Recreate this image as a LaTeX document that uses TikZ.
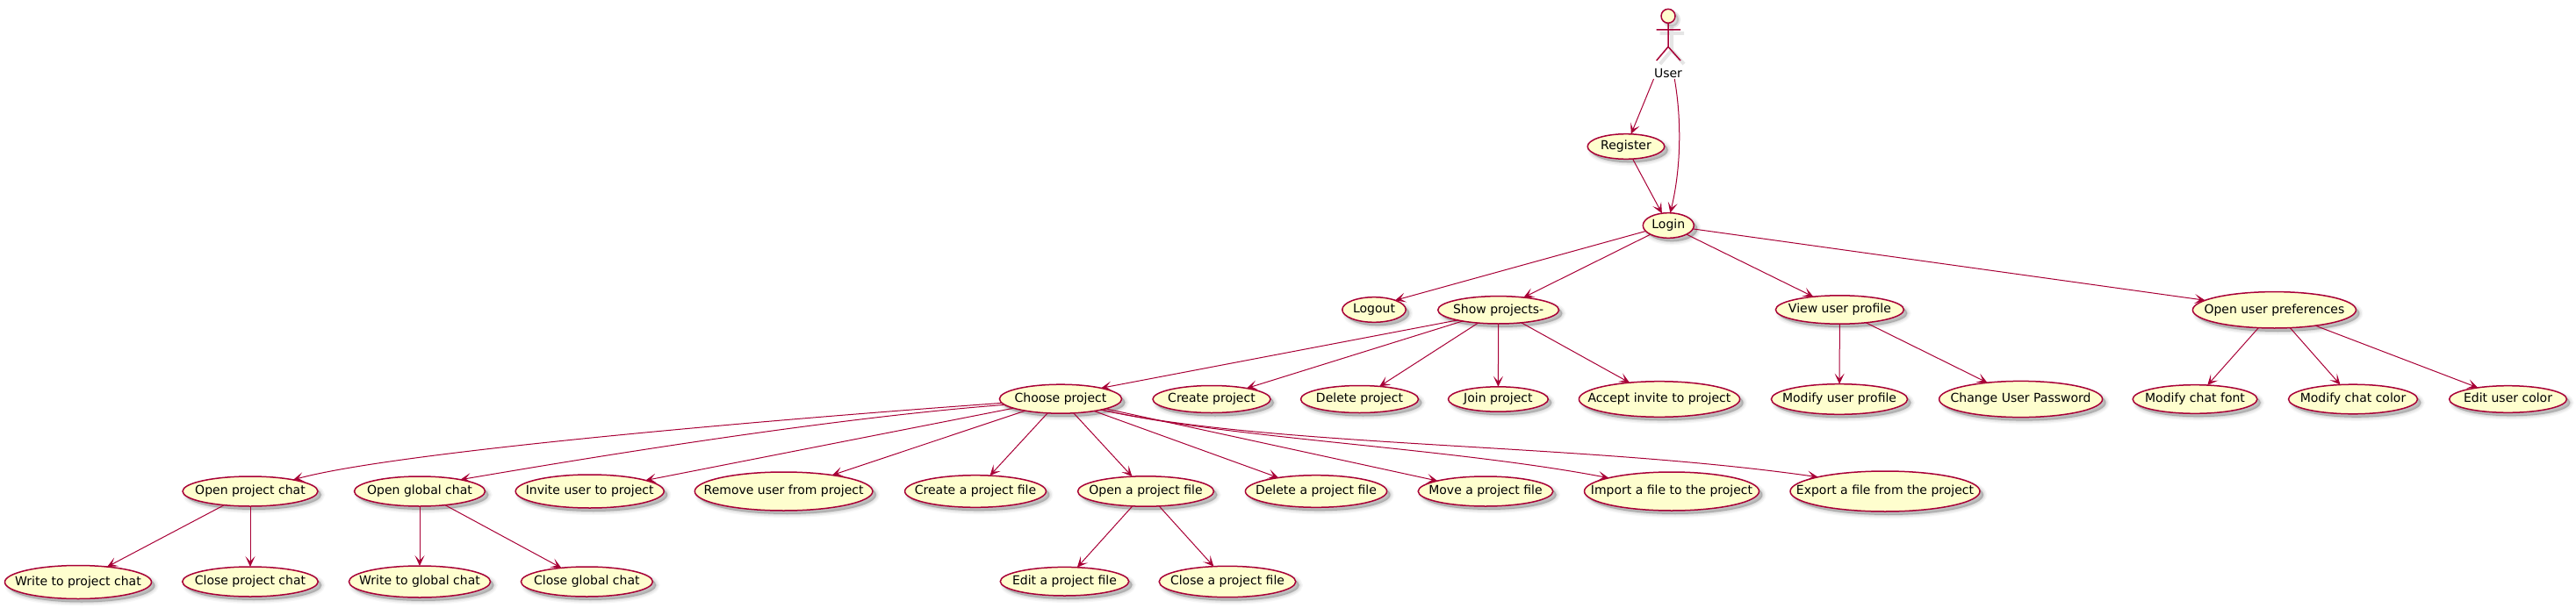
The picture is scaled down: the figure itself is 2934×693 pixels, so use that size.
\documentclass[tikz,border=0pt]{standalone}
\usepackage{fontspec}
\setmainfont{DejaVu Sans}
\usetikzlibrary{shapes.geometric,arrows.meta}
\definecolor{umlline}{HTML}{A80036}
\definecolor{umlfill}{HTML}{FEFECE}
\tikzset{
  uc/.style 2 args={ellipse, draw=umlline, fill=umlfill, line width=1.5pt, inner sep=0pt, outer sep=0pt,
    minimum width=#1pt, minimum height=#2pt, text=black,
    font=\fontsize{14}{16}\selectfont, text height=10.5pt, text depth=3pt,
    execute at begin node={\hbox to 0pt\bgroup\hss}, execute at end node={\hss\egroup},
    preaction={transform canvas={shift={(4pt,-4pt)}}, fill=black, fill opacity=.08, draw=black, draw opacity=.035, line width=8pt},
    preaction={transform canvas={shift={(4pt,-4pt)}}, fill=black, fill opacity=.08, draw=black, draw opacity=.05, line width=5pt},
    preaction={transform canvas={shift={(4pt,-4pt)}}, fill=black, fill opacity=.08, draw=black, draw opacity=.06, line width=2pt}},
  edge/.style={draw=umlline, line width=1pt, -{Stealth[length=12pt,width=11pt,inset=6pt]}},
  actorline/.style={draw=umlline, line width=1.5pt},
  actorshadow/.style={draw=black, draw opacity=.1, line width=4pt},
}
\begin{document}
\begin{tikzpicture}[x=1pt,y=-1pt]
\useasboundingbox (0,0) rectangle (2934,693);
% actor shadow
\begin{scope}[shift={(4,4)}]
\draw[actorshadow, fill=black, fill opacity=.15] (1900,18.3) circle[radius=8];
\draw[actorshadow] (1900,26.5) -- (1900,53.3) (1886.7,34) -- (1914,34) (1886.7,69) -- (1900,53.3) -- (1914,69);
\end{scope}
\node[circle, draw=umlline, fill=umlfill, line width=1.5pt, minimum size=16pt, inner sep=0pt, outer sep=0pt] (head) at (1900,18.3) {};
\coordinate (hip) at (1900,53.3);
\draw[actorline] (head) -- (hip) (1886.7,34) -- (1914,34) (1886.7,69) -- (hip) -- (1914,69);
\node[inner sep=0pt, outer sep=0pt, minimum width=33pt, minimum height=14pt, font=\fontsize{14}{16}\selectfont] (user) at (1900,83) {User};
% use cases
\node[uc={87.6}{28.6}] (reg) at (1852,167) {Register};
\node[uc={58}{28.6}] (login) at (1900.3,257) {Login};
\node[uc={72.4}{28.6}] (logout) at (1565,353) {Logout};
\node[uc={137.8}{31.4}] (show) at (1706.6,353.3) {Show projects-};
\node[uc={146}{32.4}] (view) at (2095.4,353) {View user profile};
\node[uc={186}{41.4}] (prefs) at (2590.4,353.3) {Open user preferences};
\node[uc={139.2}{33}] (choose) at (1208,454.7) {Choose project};
\node[uc={134}{31}] (createp) at (1380,455) {Create project};
\node[uc={134}{31}] (deletep) at (1548.5,455) {Delete project};
\node[uc={113.8}{28.4}] (join) at (1706.4,455) {Join project};
\node[uc={183.2}{40.6}] (accept) at (1890,455) {Accept invite to project};
\node[uc={155.2}{34.6}] (modprof) at (2095,455) {Modify user profile};
\node[uc={186}{41.2}] (pass) at (2301.6,455) {Change User Password};
\node[uc={141.8}{32.6}] (font) at (2500,455) {Modify chat font};
\node[uc={147}{33.6}] (color) at (2680,455) {Modify chat color};
\node[uc={133.8}{30.6}] (ucolor) at (2856.5,455) {Edit user color};
\node[uc={154}{34}] (opc) at (285,560) {Open project chat};
\node[uc={149}{34}] (ogc) at (478,560) {Open global chat};
\node[uc={169}{38}] (invite) at (671.7,560) {Invite user to project};
\node[uc={202.6}{44}] (remove) at (892.6,560) {Remove user from project};
\node[uc={160.8}{36.6}] (createf) at (1111,560) {Create a project file};
\node[uc={155}{34.4}] (openf) at (1305,560) {Open a project file};
\node[uc={161.2}{36.6}] (deletef) at (1499,560) {Delete a project file};
\node[uc={153.6}{34}] (movef) at (1692,560) {Move a project file};
\node[uc={199}{44}] (importf) at (1904,560) {Import a file to the project};
\node[uc={216}{46}] (exportf) at (2147,560) {Export a file from the project};
\node[uc={167}{38}] (wpc) at (89,663.5) {Write to project chat};
\node[uc={154.6}{34}] (cpc) at (285,663) {Close project chat};
\node[uc={161.2}{36}] (wgc) at (478,663) {Write to global chat};
\node[uc={150}{34}] (cgc) at (668.4,663) {Close global chat};
\node[uc={146.4}{32.6}] (editf) at (1212.5,662.7) {Edit a project file};
\node[uc={155.6}{35.4}] (closef) at (1398,663) {Close a project file};
% connectors
\draw[edge] (user.south west) -- (reg.68);
\draw[edge] (user.-44) .. controls (1916,140) and (1914,195) .. (login.82);
\draw[edge] (reg) -- (login);
\draw[edge] (login.194.4) -- (logout.24);
\draw[edge] (login) -- (show);
\draw[edge] (login) -- (view);
\draw[edge] (login) -- (prefs);
\draw[edge] (show.194.6) -- (choose.15);
\draw[edge] (show) -- (createp);
\draw[edge] (show) -- (deletep);
\draw[edge] (show) -- (join);
\draw[edge] (show) -- (accept);
\draw[edge] (view) -- (modprof);
\draw[edge] (view) -- (pass);
\draw[edge] (prefs) -- (font);
\draw[edge] (prefs) -- (color);
\draw[edge] (prefs) -- (ucolor);
\draw[edge] (choose.184.4) .. controls (880,478) and (450,515) .. (opc.15);
\draw[edge] (choose.186.5) .. controls (950,476) and (680,520) .. (ogc.16.4);
\draw[edge] (choose) -- (invite);
\draw[edge] (choose) -- (remove);
\draw[edge] (choose) -- (createf);
\draw[edge] (choose) -- (openf);
\draw[edge] (choose) -- (deletef);
\draw[edge] (choose) -- (movef);
\draw[edge] (choose.-15.5) .. controls (1400,500) and (1650,510) .. (importf.168.3);
\draw[edge] (choose.-15.5) .. controls (1450,510) and (1800,505) .. (exportf.168);
\draw[edge] (opc) -- (wpc);
\draw[edge] (opc) -- (cpc);
\draw[edge] (ogc) -- (wgc);
\draw[edge] (ogc) -- (cgc);
\draw[edge] (openf) -- (editf);
\draw[edge] (openf) -- (closef);
\end{tikzpicture}
\end{document}
